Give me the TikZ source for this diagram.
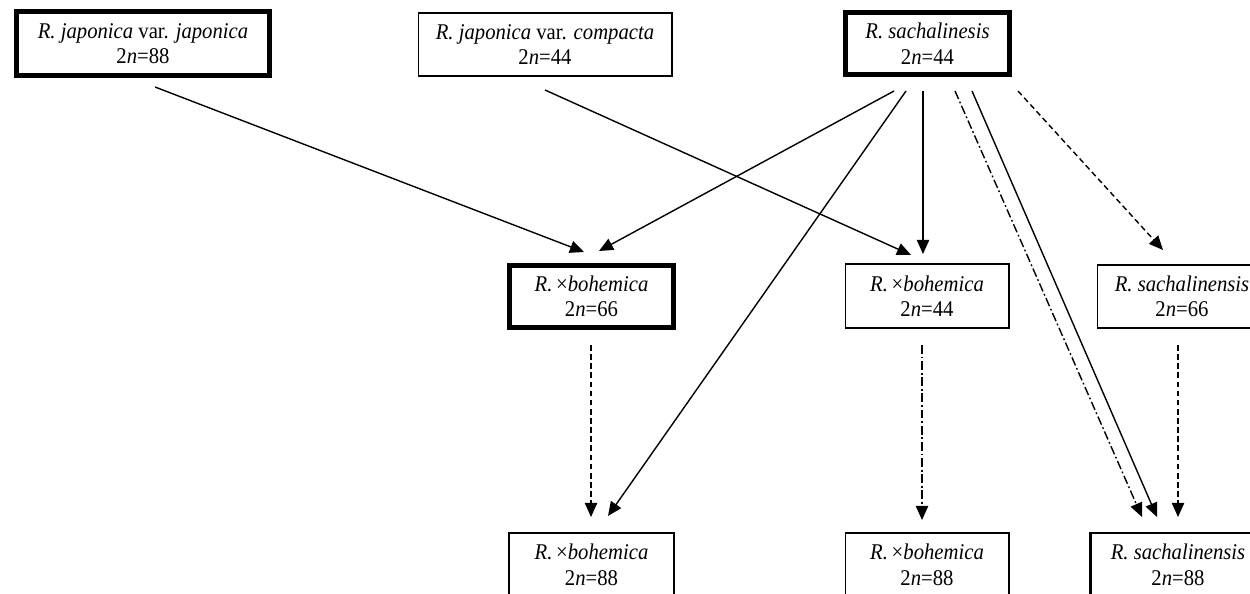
\documentclass[tikz,border=0pt]{standalone}
\usepackage{fontspec}
\setmainfont[FakeStretch=0.92]{Liberation Serif}
\usetikzlibrary{arrows.meta}
\begin{document}
\begin{tikzpicture}[x=0.02cm,y=-0.02cm,
  box/.style={draw, line width=0.6pt, align=center, inner sep=0pt,
    font=\fontsize{12.8}{14.5}\selectfont},
  thickbox/.style={box, line width=2.8pt},
  medbox/.style={box, line width=1.4pt},
  arr/.style={line width=0.8pt, -{Triangle[length=8pt,width=7pt]}},
  dsh/.style={arr, dash pattern=on 3.2pt off 2pt},
  dshdot/.style={arr, dash pattern=on 5pt off 1.6pt on 1pt off 1.6pt}]
\clip (0,0) rectangle (1250,594);
\fill[white] (0,0) rectangle (1250,594);

% top row
\node[thickbox, minimum width=5.06cm, minimum height=1.28cm] (A) at (143,43.5)
  {\textit{R. japonica} var. \textit{japonica}\\2\textit{n}=88};
\node[box, minimum width=5.08cm, minimum height=1.26cm] (B) at (545,44.5)
  {\textit{R. japonica} var. \textit{compacta}\\2\textit{n}=44};
\node[thickbox, minimum width=3.28cm, minimum height=1.24cm] (C) at (927.5,43.5)
  {\textit{R. sachalinesis}\\2\textit{n}=44};

% middle row
\node[thickbox, minimum width=3.28cm, minimum height=1.24cm] (D) at (591.5,296.5)
  {\textit{R.}\,×\textit{bohemica}\\2\textit{n}=66};
\node[box, minimum width=3.28cm, minimum height=1.28cm] (E) at (927,296)
  {\textit{R.}\,×\textit{bohemica}\\2\textit{n}=44};
\node[box, minimum width=3.38cm, minimum height=1.26cm] (F) at (1182,296.5)
  {\textit{R. sachalinensis}\\2\textit{n}=66};

% bottom row
\node[box, minimum width=3.3cm, minimum height=1.28cm] (G) at (591.5,565)
  {\textit{R.}\,×\textit{bohemica}\\2\textit{n}=88};
\node[box, minimum width=3.28cm, minimum height=1.28cm] (H) at (927,565)
  {\textit{R.}\,×\textit{bohemica}\\2\textit{n}=88};
\node[medbox, minimum width=3.5cm, minimum height=1.28cm] (I) at (1178,565)
  {\textit{R. sachalinensis}\\2\textit{n}=88};

% connector ends
\coordinate (AoutD) at (155,87);   \coordinate (DinA) at (584,252);
\coordinate (BoutE) at (545,90);   \coordinate (EinB) at (911,255);
\coordinate (CoutD) at (894,91);   \coordinate (DinC) at (599,251);
\coordinate (CoutG) at (906,91);   \coordinate (GinC) at (608,516);
\coordinate (CoutE) at (923,91);   \coordinate (EinC) at (923,254);
\coordinate (CoutI1) at (955,91);  \coordinate (IinC1) at (1142,517);
\coordinate (CoutI2) at (972,91);  \coordinate (IinC2) at (1157,517);
\coordinate (CoutF) at (1018,91);  \coordinate (FinC) at (1163,250);
\coordinate (DoutG) at (591,345);  \coordinate (GinD) at (591,517);
\coordinate (EoutH) at (922,345);  \coordinate (HinE) at (922,520);
\coordinate (FoutI) at (1178,345); \coordinate (IinF) at (1178,517);

\draw[arr] (AoutD) -- (DinA);
\draw[arr] (BoutE) -- (EinB);
\draw[arr] (CoutD) -- (DinC);
\draw[arr] (CoutG) -- (GinC);
\draw[arr] (CoutE) -- (EinC);
\draw[dshdot] (CoutI1) -- (IinC1);
\draw[arr] (CoutI2) -- (IinC2);
\draw[dsh] (CoutF) -- (FinC);
\draw[dsh] (DoutG) -- (GinD);
\draw[dshdot] (EoutH) -- (HinE);
\draw[dsh] (FoutI) -- (IinF);
\end{tikzpicture}
\end{document}
